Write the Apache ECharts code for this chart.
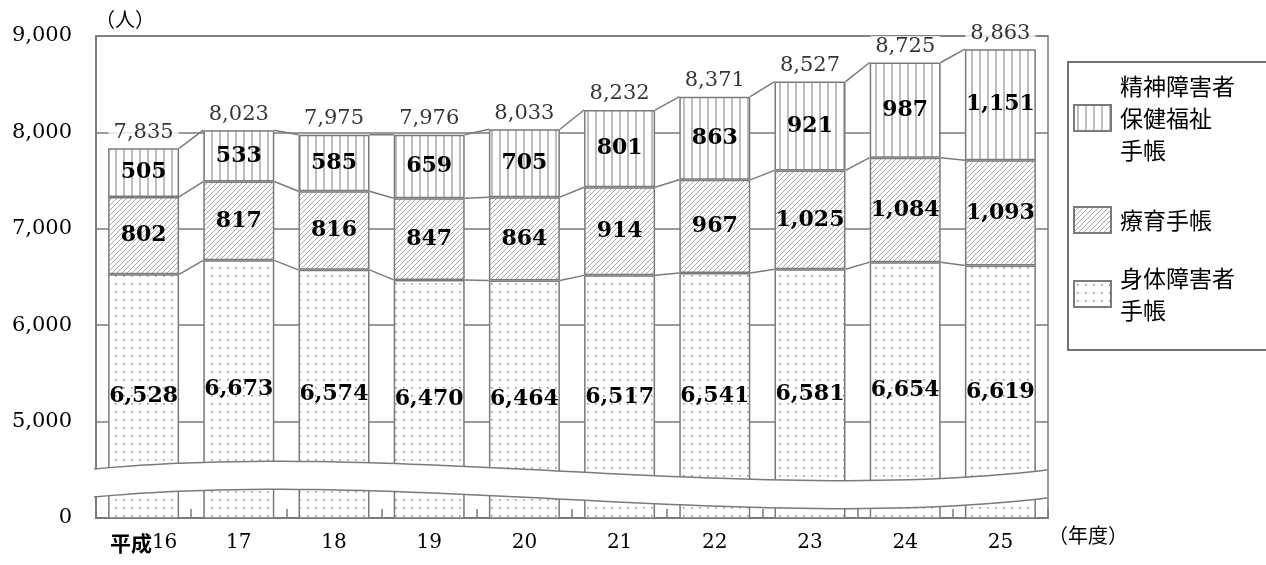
<!DOCTYPE html>
<html>
<head>
<meta charset="utf-8">
<script src="https://cdn.jsdelivr.net/npm/echarts@6/dist/echarts.min.js"></script>
<style>
  html, body { margin: 0; padding: 0; background: #fff; }
  #chart { width: 1266px; height: 565px; }
</style>
</head>
<body>
<div id="chart"></div>
<script>
// 年度
const years = ['平成16', '17', '18', '19', '20', '21', '22', '23', '24', '25'];
// 身体障害者手帳
const shintai = [6528, 6673, 6574, 6470, 6464, 6517, 6541, 6581, 6654, 6619];
// 療育手帳
const ryoiku = [802, 817, 816, 847, 864, 914, 967, 1025, 1084, 1093];
// 精神障害者保健福祉手帳
const seishin = [505, 533, 585, 659, 705, 801, 863, 921, 987, 1151];
// 合計
const totals = [7835, 8023, 7975, 7976, 8033, 8232, 8371, 8527, 8725, 8863];
// 縦軸の目盛 (下端は省略線の下なので 0)
const yTickLabels = ['0', '5,000', '6,000', '7,000', '8,000', '9,000'];

const serif = '"DejaVu Serif", "Noto Sans CJK JP", serif';
const sans = '"Noto Sans CJK JP", sans-serif';
const lineGray = '#7a7a7a';
const BAR_W = 71;

const fmt = v => Number(v).toLocaleString('en-US');

function makePattern(w, h, draw) {
  const c = document.createElement('canvas');
  c.width = w; c.height = h;
  const ctx = c.getContext('2d');
  ctx.fillStyle = '#fff';
  ctx.fillRect(0, 0, w, h);
  draw(ctx);
  return { image: c, repeat: 'repeat' };
}
// 点
const dotFill = makePattern(8, 8, ctx => {
  ctx.fillStyle = '#8a8a8a';
  ctx.fillRect(3, 3, 1, 1);
  ctx.fillStyle = '#c8c8c8';
  ctx.fillRect(4, 3, 1, 1);
  ctx.fillRect(3, 4, 1, 1);
  ctx.fillRect(4, 4, 1, 1);
});
// 斜線
const hatchFill = makePattern(5, 5, ctx => {
  ctx.strokeStyle = '#a8a8a8';
  ctx.lineWidth = 1;
  ctx.beginPath();
  ctx.moveTo(-1, 6); ctx.lineTo(6, -1);
  ctx.moveTo(-1, 1); ctx.lineTo(1, -1);
  ctx.moveTo(4, 6); ctx.lineTo(6, 4);
  ctx.stroke();
});
// 縦線
const stripeFill = makePattern(8, 4, ctx => {
  ctx.fillStyle = '#bdbdbd';
  ctx.fillRect(3, 0, 2, 4);
});

const legendNames = {
  '精神障害者保健福祉手帳': '精神障害者\n保健福祉\n手帳',
  '療育手帳': '療育手帳',
  '身体障害者手帳': '身体障害者\n手帳'
};

// 系列線 (各棒の区切りを次の棒へつなぐ)
const connData = [];
for (let i = 0; i < years.length - 1; i++) {
  connData.push([
    i,
    shintai[i], shintai[i] + ryoiku[i], totals[i],
    shintai[i + 1], shintai[i + 1] + ryoiku[i + 1], totals[i + 1]
  ]);
}

function bez(p0, p1, p2, p3, t) {
  const u = 1 - t;
  return u * u * u * p0 + 3 * u * u * t * p1 + 3 * u * t * t * p2 + t * t * t * p3;
}
function curve(pts, n) {
  const out = [];
  for (let k = 0; k <= n; k++) {
    const t = k / n;
    out.push([bez(pts[0][0], pts[1][0], pts[2][0], pts[3][0], t),
              bez(pts[0][1], pts[1][1], pts[2][1], pts[3][1], t)]);
  }
  return out;
}
const topCurve = curve([[94, 469], [400, 440], [750, 505], [1047, 470]], 60);
const botCurve = curve([[94, 497], [400, 468], [750, 533], [1047, 498]], 60);

const labelInside = {
  show: true,
  position: 'inside',
  color: '#000',
  fontFamily: serif,
  fontWeight: 'bold',
  fontSize: 22,
  formatter: p => fmt(p.value)
};
const barBorder = { borderColor: lineGray, borderWidth: 1.5 };

const chart = echarts.init(document.getElementById('chart'), null, { renderer: 'canvas' });

chart.setOption({
  animation: false,
  backgroundColor: '#fff',
  grid: {
    left: 96, right: 218, top: 36, bottom: 47,
    show: true, borderColor: lineGray, borderWidth: 1.5, backgroundColor: 'transparent'
  },
  legend: [0, 1, 2].map(k => ({
    data: [['精神障害者保健福祉手帳', '療育手帳', '身体障害者手帳'][k]],
    orient: 'vertical',
    left: 1073,
    top: [70, 204, 262][k],
    padding: 0,
    icon: 'rect',
    itemWidth: 37,
    itemHeight: 26,
    itemGap: 0,
    selectedMode: false,
    formatter: n => legendNames[n],
    textStyle: { fontFamily: sans, fontSize: 23, lineHeight: 32, color: '#000', padding: [0, 0, 0, 4] }
  })),
  xAxis: {
    type: 'category',
    data: years,
    name: '（年度）',
    nameLocation: 'end',
    nameGap: 0,
    nameTextStyle: { fontFamily: serif, fontSize: 20, color: '#000', verticalAlign: 'top', padding: [10, 0, 0, 0] },
    axisLine: { lineStyle: { color: lineGray, width: 2 } },
    axisTick: { show: true, inside: true, length: 9, interval: 0, lineStyle: { color: lineGray, width: 1.5 } },
    axisLabel: {
      interval: 0,
      fontFamily: serif, fontSize: 20, color: '#000', margin: 13,
      formatter: v => {
        const m = /^(\D+)(\d+)$/.exec(v);
        return m ? '{k|' + m[1] + '}{n|' + m[2] + '}' : '{n|' + v + '}';
      },
      rich: {
        k: { fontFamily: sans, fontSize: 21, fontWeight: 'bold', color: '#000', height: 24 },
        n: { fontFamily: serif, fontSize: 20, color: '#000', height: 24 }
      }
    }
  },
  yAxis: {
    type: 'value',
    min: 4000,
    max: 9000,
    interval: 1000,
    name: '（人）',
    nameLocation: 'end',
    nameGap: 4,
    nameTextStyle: { fontFamily: serif, fontSize: 20, color: '#000', align: 'left', padding: [0, 0, 0, -1] },
    axisLine: { show: true, lineStyle: { color: lineGray, width: 2 } },
    axisTick: { show: false },
    splitLine: { show: true, lineStyle: { color: lineGray, width: 1.5 } },
    axisLabel: {
      fontFamily: serif, fontSize: 21, color: '#000', margin: 24,
      formatter: v => yTickLabels[Math.round((v - 4000) / 1000)]
    }
  },
  series: [
    {
      name: '身体障害者手帳', type: 'bar', stack: 'all', barWidth: BAR_W,
      data: shintai, itemStyle: Object.assign({ color: dotFill }, barBorder),
      label: labelInside, z: 2
    },
    {
      name: '療育手帳', type: 'bar', stack: 'all', barWidth: BAR_W,
      data: ryoiku, itemStyle: Object.assign({ color: hatchFill }, barBorder),
      label: labelInside, z: 2
    },
    {
      name: '精神障害者保健福祉手帳', type: 'bar', stack: 'all', barWidth: BAR_W,
      data: seishin, itemStyle: Object.assign({ color: stripeFill }, barBorder),
      label: labelInside, z: 2
    },
    {
      type: 'custom',
      data: connData,
      silent: true,
      z: 3,
      renderItem: (params, api) => {
        const i = api.value(0);
        const half = BAR_W / 2;
        const children = [1, 2, 3].map(k => {
          const a = api.coord([i, api.value(k)]);
          const b = api.coord([i + 1, api.value(k + 3)]);
          return {
            type: 'line',
            shape: { x1: a[0] + half, y1: a[1], x2: b[0] - half, y2: b[1] },
            style: { stroke: lineGray, lineWidth: 1.5 }
          };
        });
        return { type: 'group', children };
      }
    },
    {
      type: 'scatter',
      data: totals,
      symbol: 'rect',
      symbolSize: 1,
      silent: true,
      itemStyle: { color: 'rgba(0,0,0,0)' },
      z: 6,
      label: {
        show: true, position: 'top', distance: 5,
        color: '#000', fontFamily: serif, fontSize: 21,
        backgroundColor: '#fff', padding: [0, 5],
        formatter: p => fmt(p.value)
      }
    }
  ],
  graphic: [
    {
      type: 'polygon', z: 100, silent: true,
      shape: { points: topCurve.concat(botCurve.slice().reverse()) },
      style: { fill: '#fff', stroke: null }
    },
    {
      type: 'polyline', z: 101, silent: true,
      shape: { points: topCurve },
      style: { stroke: lineGray, lineWidth: 1.5, fill: null }
    },
    {
      type: 'polyline', z: 101, silent: true,
      shape: { points: botCurve },
      style: { stroke: lineGray, lineWidth: 1.5, fill: null }
    },
    {
      type: 'rect', z: 50, silent: true,
      shape: { x: 1068, y: 62, width: 260, height: 288 },
      style: { fill: null, stroke: '#444', lineWidth: 1.5 }
    }
  ]
});
</script>
</body>
</html>
